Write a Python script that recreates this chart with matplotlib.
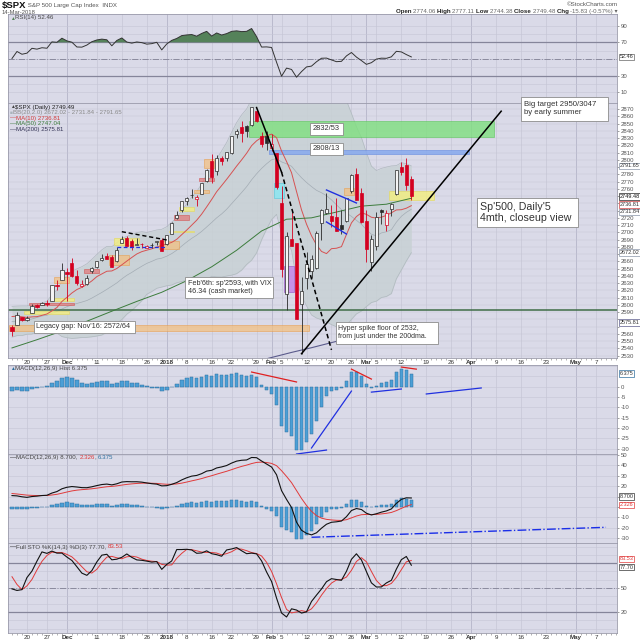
import numpy as np
import matplotlib
matplotlib.use('Agg')
import matplotlib.pyplot as plt
from matplotlib.patches import Rectangle

plt.rcParams['font.family'] = ['Liberation Sans', 'DejaVu Sans']

# ---------------- data ----------------
first_day = '2017-11-15'
holidays = ['2017-11-23', '2017-12-25', '2018-01-01', '2018-01-15', '2018-02-19', '2018-03-30']
prev_close = 2578.87

opens = [2569.45, 2572.95, 2582.94, 2579.49, 2589.17, 2600.31, 2600.42, 2602.66, 2605.94, 2627.82,
         2633.93, 2645.10, 2657.19, 2639.78, 2626.24, 2628.38, 2646.21, 2652.19, 2661.73, 2667.59,
         2665.87, 2660.63, 2685.92, 2692.71, 2688.18, 2683.02, 2684.22, 2679.09, 2682.10, 2686.10,
         2689.15, 2683.73, 2697.85, 2719.31, 2731.33, 2742.67, 2751.15, 2745.55, 2752.97, 2770.18,
         2798.96, 2784.99, 2802.40, 2802.60, 2809.16, 2835.05, 2845.42, 2846.24, 2847.48, 2867.23,
         2832.74, 2832.41, 2816.45, 2808.92, 2741.06, 2614.78, 2690.95, 2685.01, 2601.78, 2636.75,
         2646.27, 2651.21, 2713.46, 2727.14, 2722.99, 2720.53, 2710.42, 2715.80, 2757.37, 2780.45,
         2753.78, 2715.22, 2658.89, 2681.06, 2730.18, 2710.18, 2732.75, 2752.91, 2790.54, 2792.31,
         2774.06]
highs = [2572.84, 2590.09, 2583.96, 2584.64, 2601.19, 2600.94, 2604.21, 2606.41, 2627.69, 2634.89,
         2657.74, 2650.62, 2665.19, 2648.72, 2634.41, 2640.99, 2651.65, 2660.33, 2669.72, 2671.88,
         2668.09, 2679.63, 2694.97, 2694.44, 2691.01, 2692.64, 2685.35, 2682.74, 2685.64, 2687.66,
         2692.12, 2695.89, 2714.37, 2729.29, 2743.45, 2748.51, 2759.14, 2750.80, 2767.56, 2787.85,
         2807.54, 2807.04, 2805.83, 2810.33, 2833.03, 2842.24, 2852.97, 2848.56, 2872.87, 2870.62,
         2837.75, 2839.26, 2835.96, 2808.92, 2763.39, 2701.04, 2727.67, 2685.27, 2638.67, 2672.61,
         2668.84, 2702.10, 2731.51, 2754.42, 2737.60, 2747.75, 2731.26, 2747.76, 2780.64, 2789.15,
         2761.52, 2730.89, 2696.25, 2728.09, 2732.08, 2730.60, 2740.45, 2786.57, 2796.98, 2801.90,
         2777.11]
lows = [2557.45, 2572.95, 2577.62, 2578.24, 2589.17, 2595.23, 2600.42, 2598.87, 2605.44, 2620.32,
        2633.93, 2605.52, 2639.03, 2627.73, 2624.75, 2627.69, 2644.10, 2651.47, 2660.36, 2662.85,
        2652.01, 2659.14, 2685.92, 2680.74, 2676.11, 2682.40, 2678.13, 2677.96, 2678.91, 2682.69,
        2673.61, 2682.36, 2697.77, 2719.07, 2727.92, 2737.60, 2747.86, 2736.06, 2752.78, 2769.64,
        2768.64, 2778.38, 2792.56, 2798.08, 2808.12, 2830.59, 2824.81, 2830.94, 2846.18, 2851.48,
        2818.27, 2813.04, 2812.70, 2759.97, 2638.17, 2593.07, 2681.33, 2580.56, 2532.69, 2622.45,
        2637.08, 2648.87, 2689.82, 2725.11, 2706.76, 2701.29, 2697.77, 2713.74, 2753.78, 2744.22,
        2713.54, 2659.65, 2647.32, 2675.75, 2711.26, 2701.74, 2721.88, 2751.54, 2779.26, 2758.68,
        2744.38]
closes = [2564.62, 2585.64, 2578.85, 2582.14, 2599.03, 2597.08, 2602.42, 2601.42, 2627.04, 2626.07,
          2647.58, 2642.22, 2639.44, 2629.57, 2629.27, 2636.98, 2651.50, 2659.99, 2664.11, 2662.85,
          2652.01, 2675.81, 2690.16, 2681.47, 2679.25, 2684.57, 2683.34, 2680.50, 2682.62, 2687.54,
          2673.61, 2695.81, 2713.06, 2723.99, 2743.15, 2747.71, 2751.29, 2748.23, 2767.56, 2786.24,
          2776.42, 2802.56, 2798.03, 2810.30, 2832.97, 2839.13, 2837.54, 2839.25, 2872.87, 2853.53,
          2822.43, 2823.81, 2821.98, 2762.13, 2648.94, 2695.14, 2681.66, 2581.00, 2619.55, 2656.00,
          2662.94, 2698.63, 2731.20, 2732.22, 2716.26, 2701.33, 2703.96, 2747.30, 2779.60, 2744.28,
          2713.83, 2677.67, 2691.25, 2720.94, 2728.12, 2726.80, 2738.97, 2786.57, 2783.02, 2765.31,
          2749.48]

ma10 = [2583.9, 2584.5, 2583.6, 2582.7, 2583.5, 2583.8, 2585.6, 2587.5, 2591.7, 2596.4,
        2604.7, 2610.4, 2616.4, 2621.2, 2624.2, 2628.2, 2633.1, 2639.0, 2642.7, 2646.4,
        2646.8, 2650.2, 2655.2, 2660.4, 2665.4, 2670.2, 2673.4, 2675.4, 2677.3, 2679.7,
        2681.9, 2683.9, 2686.2, 2690.4, 2696.8, 2703.1, 2709.9, 2716.7, 2725.2, 2735.1,
        2745.3, 2756.0, 2764.5, 2773.1, 2782.1, 2791.3, 2799.9, 2809.0, 2819.5, 2826.2,
        2830.8, 2833.0, 2835.4, 2830.5, 2812.1, 2797.7, 2782.2, 2756.3, 2731.0, 2711.3,
        2695.3, 2682.8, 2673.7, 2670.7, 2677.5, 2678.1, 2680.3, 2697.0, 2713.0, 2721.8,
        2726.9, 2724.8, 2720.8, 2719.7, 2720.9, 2723.4, 2726.9, 2730.9, 2731.2, 2733.3,
        2736.8]
bb_mid = [2576.8, 2578.0, 2578.2, 2579.1, 2580.6, 2582.6, 2584.7, 2585.7, 2588.4, 2590.9,
          2594.3, 2597.5, 2600.0, 2602.0, 2603.9, 2606.0, 2609.4, 2613.3, 2617.2, 2621.4,
          2625.8, 2630.3, 2635.8, 2640.8, 2644.8, 2649.2, 2653.3, 2657.2, 2660.0, 2663.1,
          2664.4, 2667.1, 2670.7, 2675.4, 2681.1, 2686.7, 2691.7, 2696.1, 2701.3, 2707.4,
          2713.6, 2720.0, 2725.4, 2731.8, 2739.5, 2747.2, 2754.9, 2762.9, 2772.4, 2780.7,
          2788.1, 2794.5, 2800.0, 2801.8, 2797.1, 2794.5, 2791.1, 2782.7, 2775.3, 2768.8,
          2763.1, 2757.9, 2754.6, 2750.6, 2744.8, 2737.9, 2731.3, 2726.7, 2722.0, 2716.6,
          2711.1, 2703.8, 2697.3, 2695.2, 2699.2, 2700.8, 2703.6, 2714.0, 2722.1, 2727.6,
          2731.8]
bb_half = [21.2, 20.4, 20.4, 19.5, 20.8, 19.0, 18.0, 19.3, 25.5, 29.6,
           38.0, 42.7, 46.2, 47.7, 48.8, 50.7, 53.4, 56.2, 58.7, 59.2,
           54.5, 55.4, 56.0, 53.6, 52.5, 50.4, 47.6, 42.6, 41.6, 40.2,
           39.8, 40.7, 43.3, 44.9, 48.8, 52.5, 57.0, 60.0, 65.7, 72.9,
           74.1, 81.4, 87.0, 92.0, 98.5, 104.2, 107.0, 107.2, 110.8, 108.9,
           98.5, 90.0, 82.5, 77.0, 99.0, 106.7, 116.0, 147.3, 163.0, 170.0,
           177.0, 176.0, 175.0, 174.0, 172.0, 168.1, 162.0, 155.0, 142.0, 129.0,
           119.6, 106.0, 94.0, 90.0, 89.0, 89.2, 88.0, 78.0, 74.0, 67.0,
           59.8]
ma50_dates = ['2017-11-15', '2017-11-22', '2017-11-30', '2017-12-07', '2017-12-14', '2017-12-21',
              '2017-12-29', '2018-01-08', '2018-01-16', '2018-01-23', '2018-01-30', '2018-02-06',
              '2018-02-13', '2018-02-21', '2018-02-28', '2018-03-07', '2018-03-14']
ma50 = [2540.7, 2552.0, 2564.0, 2577.5, 2591.3, 2604.8, 2617.4, 2633.3, 2652.5, 2675.3,
        2701.9, 2718.1, 2720.0, 2728.0, 2736.1, 2738.8, 2747.0]
ma200_dates = ['2018-01-26', '2018-02-01', '2018-02-07', '2018-02-13', '2018-02-20', '2018-02-26',
               '2018-03-02', '2018-03-08', '2018-03-14']
ma200 = [2520.5, 2527.5, 2534.5, 2541.0, 2548.0, 2555.0, 2562.0, 2569.0, 2575.8]

rsi = [50.6, 59.0, 55.7, 57.0, 62.8, 61.8, 63.5, 62.9, 70.5, 70.0,
       74.9, 71.7, 70.1, 64.4, 64.2, 66.7, 70.7, 72.8, 73.8, 73.0,
       65.8, 72.2, 75.2, 70.3, 69.0, 70.4, 69.6, 67.8, 68.4, 70.0,
       60.9, 68.0, 72.3, 74.6, 78.0, 78.8, 79.3, 77.3, 80.6, 83.1,
       77.4, 81.2, 78.7, 80.4, 83.1, 83.7, 82.8, 83.1, 86.5, 76.8,
       64.3, 64.5, 63.8, 46.1, 29.4, 39.1, 37.5, 28.2, 34.9, 40.5,
       41.5, 46.7, 50.9, 51.1, 48.9, 46.8, 47.2, 53.7, 57.8, 52.3,
       48.1, 43.6, 45.6, 49.9, 51.0, 50.8, 52.6, 59.2, 58.5, 55.3,
       52.5]
macd = [11.00, 10.72, 9.84, 9.29, 10.10, 10.47, 11.06, 11.32, 13.44, 14.87,
        17.54, 19.00, 19.70, 19.25, 18.65, 18.58, 19.47, 20.63, 21.63, 22.07,
        21.29, 22.34, 24.06, 24.44, 24.28, 24.30, 23.94, 23.16, 22.45, 22.02,
        20.33, 20.55, 21.86, 23.51, 26.07, 28.14, 29.72, 30.38, 32.10, 34.56,
        35.31, 37.59, 38.58, 39.90, 42.28, 44.15, 44.98, 45.27, 47.66, 47.44,
        44.25, 41.36, 38.48, 31.00, 15.76, 7.33, -0.43, -14.54, -22.35, -25.31,
        -26.79, -24.79, -20.35, -16.56, -14.66, -14.21, -13.48, -9.30, -3.35, -1.46,
        -2.39, -5.97, -7.63, -6.48, -4.93, -3.76, -1.83, 3.51, 7.35, 8.87,
        8.70]
macd_signal = [13.00, 12.54, 12.00, 11.46, 11.19, 11.05, 11.05, 11.10, 11.57, 12.23,
               13.29, 14.43, 15.48, 16.23, 16.71, 17.08, 17.56, 18.17, 18.86, 19.50,
               19.86, 20.36, 21.10, 21.77, 22.27, 22.68, 22.93, 22.98, 22.87, 22.70,
               22.23, 21.89, 21.88, 22.21, 22.98, 24.01, 25.15, 26.20, 27.38, 28.82,
               30.12, 31.61, 33.00, 34.38, 35.96, 37.60, 39.08, 40.32, 41.79, 42.92,
               43.19, 42.82, 41.95, 39.76, 34.96, 29.43, 23.46, 15.86, 8.22, 1.51,
               -4.15, -8.28, -10.69, -11.86, -12.42, -12.78, -12.92, -12.20, -10.43, -8.64,
               -7.39, -7.11, -7.21, -7.06, -6.63, -6.06, -5.21, -3.47, -1.31, 0.73,
               2.33]
sto_k = [48.7, 46.8, 47.8, 62.6, 70.5, 82.7, 94.0, 92.2, 95.0, 92.5,
         92.5, 87.7, 83.5, 75.8, 68.0, 65.3, 71.1, 81.8, 90.0, 91.1,
         84.3, 85.1, 87.4, 91.5, 87.3, 84.2, 83.7, 82.7, 81.5, 82.1,
         72.6, 78.7, 82.9, 96.9, 96.9, 97.2, 96.4, 92.3, 92.7, 95.3,
         91.8, 90.6, 88.7, 96.4, 97.6, 99.3, 95.4, 91.8, 92.5, 91.6,
         83.0, 69.4, 57.8, 37.4, 19.2, 14.3, 24.3, 22.8, 19.1, 20.6,
         33.3, 41.1, 48.6, 57.5, 61.2, 60.2, 59.2, 70.2, 84.9, 91.7,
         84.2, 69.9, 56.1, 51.0, 51.1, 56.0, 59.2, 72.9, 84.5, 88.4,
         77.7]
sto_d = [63.6, 54.1, 47.8, 52.4, 60.3, 71.9, 82.4, 89.6, 93.7, 93.2,
         93.3, 90.9, 87.9, 82.3, 75.8, 69.7, 68.1, 72.7, 81.0, 87.6,
         88.5, 86.8, 85.6, 88.0, 88.7, 87.7, 85.1, 83.5, 82.6, 82.1,
         78.7, 77.8, 78.1, 86.2, 92.2, 97.0, 96.8, 95.3, 93.8, 93.4,
         93.3, 92.6, 90.4, 91.9, 94.2, 97.8, 97.4, 95.5, 93.2, 92.0,
         89.0, 81.3, 70.1, 54.9, 38.1, 23.6, 19.3, 20.5, 22.1, 20.8,
         24.3, 31.7, 41.0, 49.1, 55.8, 59.6, 60.2, 63.2, 71.4, 82.3,
         86.9, 81.9, 70.1, 59.0, 52.7, 52.7, 55.4, 62.7, 72.2, 81.9,
         83.5]

tick_dates = ['2017-11-20', '2017-11-27', '2017-12-01', '2017-12-11', '2017-12-18', '2017-12-26',
              '2018-01-02', '2018-01-08', '2018-01-16', '2018-01-22', '2018-01-29', '2018-02-01',
              '2018-02-05', '2018-02-12', '2018-02-20', '2018-02-26', '2018-03-01', '2018-03-05',
              '2018-03-12', '2018-03-19', '2018-03-26', '2018-04-02', '2018-04-09', '2018-04-16',
              '2018-04-23', '2018-05-01', '2018-05-07']
tick_labels = ['20', '27', 'Dec', '11', '18', '26', '2018', '8', '16', '22', '29', 'Feb', '5', '12',
               '20', '26', 'Mar', '5', '12', '19', '26', 'Apr', '9', '16', '23', 'May', '7']

# latest-value flags on the right axes: (value shown, label)
price_flags = [(2791.65, '2791.65', 'bb'), (2749.48, '2749.48', 'close'), (2736.81, '2736.81', 'ma10'),
               (2731.84, '2731.84', 'bb'), (2672.02, '2672.02', 'bb'), (2575.81, '2575.81', 'ma200')]

# annotation drawings (date, price)
trend_lines = [
    ([('2018-02-09', 2532.7), ('2018-04-10', 2867.0)], 'black', '-', 1.1),
    ([('2018-01-29', 2872.0), ('2018-02-05', 2783.0)], 'black', '-', 1.1),
    ([('2018-02-05', 2783.0), ('2018-02-20', 2538.0)], 'black', (0, (3, 2)), 1.1),
    ([('2017-12-18', 2700.9), ('2018-01-02', 2689.5)], 'black', (0, (3, 2)), 1.0),
    ([('2017-12-15', 2680.0), ('2018-01-02', 2680.0)], '#2030e0', (0, (3, 2)), 0.9),
    ([('2018-02-16', 2758.4), ('2018-02-27', 2740.5)], '#2030e0', '-', 1.0),
    ([('2018-02-16', 2714.3), ('2018-02-23', 2697.7)], '#2030e0', '-', 1.0),
]
zones = [  # date0, date1, low, high, kind
    ('2018-01-26', '2018-04-06', 2832, 2853, 'green'),
    ('2018-02-01', '2018-03-29', 2808, 2813, 'blue'),
    ('2017-11-15', '2018-02-12', 2564, 2572, 'orange'),
    ('2018-03-08', '2018-03-20', 2744, 2757, 'yellow'),
    ('2018-02-23', '2018-02-26', 2751, 2761, 'orange'),
    ('2018-02-02', '2018-02-05', 2747, 2768, 'cyan'),
    ('2018-02-06', '2018-02-07', 2618, 2654, 'purple'),
    ('2018-01-12', '2018-01-16', 2789, 2801, 'orange'),
    ('2018-01-11', '2018-01-16', 2771, 2775, 'red'),
    ('2018-01-10', '2018-01-12', 2754, 2758, 'orange'),
    ('2018-01-05', '2018-01-09', 2729, 2735, 'yellow'),
    ('2018-01-04', '2018-01-08', 2717, 2724, 'red'),
    ('2018-01-03', '2018-01-09', 2700, 2702, 'yellow'),
    ('2017-12-15', '2017-12-21', 2683, 2692, 'yellow'),
    ('2017-12-29', '2018-01-04', 2677, 2688, 'orange'),
    ('2017-12-14', '2017-12-19', 2655, 2669, 'orange'),
    ('2017-12-07', '2017-12-11', 2644, 2649, 'red'),
    ('2017-11-29', '2017-12-01', 2630, 2638, 'orange'),
    ('2017-11-29', '2017-12-04', 2606, 2610, 'yellow'),
    ('2017-11-21', '2017-12-04', 2600, 2603, 'red'),
    ('2017-11-20', '2017-12-01', 2587, 2592, 'yellow'),
]
hist_lines = [  # (date, value) pairs on the MACD histogram panel
    ([('2018-01-26', 7.1), ('2018-02-08', 2.3)], '#e02020'),
    ([('2018-02-26', 8.5), ('2018-03-02', 3.7)], '#e02020'),
    ([('2018-03-12', 9.5), ('2018-03-15', 8.5)], '#e02020'),
    ([('2018-02-13', -29.6), ('2018-02-26', -2.1)], '#2030e0'),
    ([('2018-02-08', -32.5), ('2018-02-16', -30.6)], '#2030e0'),
    ([('2018-03-02', -2.6), ('2018-03-12', -1.1)], '#2030e0'),
    ([('2018-03-19', -3.5), ('2018-04-04', -0.6)], '#2030e0'),
]
macd_line_note = [('2018-02-13', -29.1), ('2018-05-09', -19.5)]

# ---------------- drawing ----------------
W = H = 640.0
LPX, RPX = 8, 617
BG = '#dadae8'
GRID = '#c6c6d6'
GRID_M = '#adadc2'

fig = plt.figure(figsize=(6.4, 6.4), dpi=100)
fig.patch.set_facecolor('white')


def didx(d):
    return int(np.busday_count(first_day, d, holidays=holidays))


n = len(closes)
x = np.arange(n)
tick_x = [didx(d) for d in tick_dates]
is_month = [not lab.isdigit() or lab == '2018' for lab in tick_labels]


def panel(top, bottom, ylim):
    ax = fig.add_axes([LPX / W, 1 - bottom / H, (RPX - LPX) / W, (bottom - top) / H])
    ax.set_facecolor(BG)
    ax.set_xlim(-0.8, 121.2)
    ax.set_ylim(*ylim)
    for s in ax.spines.values():
        s.set_color('#9a9aaa')
        s.set_linewidth(0.6)
    ax.yaxis.tick_right()
    ax.tick_params(axis='y', labelsize=4.3, colors='#555555', length=1.5, width=0.4, pad=1)
    ax.tick_params(axis='x', which='both', length=0, labelbottom=False)
    for tx, m in zip(tick_x, is_month):
        ax.axvline(tx, color=GRID_M if m else GRID, lw=0.5, zorder=0.5)
    return ax


def set_right_ticks(ax, ticks, hidden=()):
    ax.set_yticks(ticks)
    ax.set_yticklabels(['' if t in hidden else str(t) for t in ticks])


def date_axis(ax):
    ax.set_xticks(tick_x)
    ax.set_xticklabels(tick_labels)
    ax.set_xticks(np.arange(0, 122), minor=True)
    ax.tick_params(axis='x', which='major', labelbottom=True, labelsize=4.5, pad=1.5,
                   labelcolor='#333333', length=0)
    ax.tick_params(axis='x', which='minor', length=1.2, width=0.4, color='#777777')
    for lab, m in zip(ax.get_xticklabels(), is_month):
        if m:
            lab.set_fontweight('bold')


def vbox(ax, ypos, s, ec, color='#333333'):
    ax.text(1.004, ypos, s, transform=ax.get_yaxis_transform(), fontsize=4.0, va='center',
            ha='left', color=color, clip_on=False, zorder=20,
            bbox=dict(boxstyle='square,pad=0.12', fc='white', ec=ec, lw=0.5))


def seq(x_px, y_px, parts, size, align='left'):
    r = fig.canvas.get_renderer()
    objs = []
    xx = x_px
    for s, kw in parts:
        opts = dict(fontsize=size, va='center', ha='left')
        opts.update(kw)
        t = fig.text(xx / W, 1 - y_px / H, s, **opts)
        w = t.get_window_extent(renderer=r).width
        objs.append((t, w))
        xx += w
    if align == 'right':
        total = xx - x_px
        xx = x_px - total
        for t, w in objs:
            t.set_x(xx / W)
            xx += w


# ---- RSI panel ----
axr = panel(14, 103, (-2.7, 103.9))
for lv in range(10, 100, 10):
    axr.axhline(lv, color=GRID, lw=0.4, zorder=0.5)
axr.axhline(70, color='#85859a', lw=0.9, zorder=1)
axr.axhline(30, color='#85859a', lw=0.9, zorder=1)
axr.axhline(50, color='#8a8a9e', lw=0.7, ls='-.', zorder=1)
ra = np.array(rsi)
axr.fill_between(x, ra, 70, where=ra > 70, interpolate=True, color='#55825a', lw=0, zorder=2)
axr.plot(x, ra, color='#333333', lw=0.7, zorder=3)
set_right_ticks(axr, [10, 30, 70, 90])
vbox(axr, rsi[-1], '52.46', '#666666')

# ---- price panel ----
axp = panel(103, 358, (2526.8, 2878.3))
for lv in range(2530, 2880, 10):
    axp.axhline(lv, color=GRID, lw=0.35, zorder=0.5)
up = np.array(bb_mid) + np.array(bb_half)
dn = np.array(bb_mid) - np.array(bb_half)
axp.fill_between(x, dn, up, color='#c8d1d4', alpha=0.85, lw=0, zorder=1)
axp.plot(x, up, color='#b0b9bf', lw=0.5, zorder=1.2)
axp.plot(x, dn, color='#b0b9bf', lw=0.5, zorder=1.2)
axp.plot(x, bb_mid, color='#a3acb4', lw=0.5, zorder=1.2)

zone_style = {
    'green': ('#7fe07f', '#5cc45c', 0.8),
    'blue': ('#87a9ee', '#6a8ee0', 0.85),
    'orange': ('#f5bf7c', '#e99a45', 0.7),
    'yellow': ('#f4ef7e', '#e3d95a', 0.8),
    'red': ('#e27c7c', '#d05050', 0.75),
    'cyan': ('#8ee6f0', '#5fc8dc', 0.9),
    'purple': ('#c48ae8', '#9a5cc8', 0.9),
}
for d0, d1, lo, hi, kind in zones:
    fc, ec, al = zone_style[kind]
    x0 = didx(d0) - 0.5
    x1 = didx(d1) + 0.5
    axp.add_patch(Rectangle((x0, lo), x1 - x0, hi - lo, fc=fc, ec=ec, lw=0.5, alpha=al, zorder=2))

axp.axhline(2593, color='#3f6d47', lw=1.1, zorder=2.5)
axp.plot(x, ma10, color='#d65252', lw=0.7, zorder=3)
axp.plot([didx(d) for d in ma50_dates], ma50, color='#3c7c3c', lw=0.7, zorder=3)
axp.plot([didx(d) for d in ma200_dates], ma200, color='#5b5b8c', lw=0.8, zorder=3)

for i in range(n):
    o, h, l, c = opens[i], highs[i], lows[i], closes[i]
    pc = closes[i - 1] if i else prev_close
    col = '#2a2a2a' if c >= pc else '#d40020'
    hollow = c >= o
    axp.vlines(i, l, h, color=col, lw=0.6, zorder=4)
    axp.add_patch(Rectangle((i - 0.32, min(o, c)), 0.64, max(abs(c - o), 0.7),
                            fc='#f4f4f4' if hollow else col, ec=col, lw=0.5, zorder=4.5))

for pts, col, ls, lw in trend_lines:
    axp.plot([didx(d) for d, _ in pts], [p for _, p in pts], color=col, ls=ls, lw=lw, zorder=6)

price_ticks = list(range(2530, 2871, 10))
hidden = [t for t in price_ticks if any(abs(t - v) < 6.5 for v, _, _ in price_flags)]
hidden += [2740]
set_right_ticks(axp, price_ticks, hidden)
date_axis(axp)
flag_style = {'bb': ('#8a96a8', '#333333'), 'close': ('#222222', '#111111'),
              'ma10': ('#d04040', '#333333'), 'ma200': ('#5b5b8c', '#333333')}
# stack the three flags that sit close together so they do not cover each other
flag_pos = {'2749.48': 2749.48, '2736.81': 2738.6, '2731.84': 2728.2}
for v, s, kind in price_flags:
    ec, col = flag_style[kind]
    vbox(axp, flag_pos.get(s, v), s, ec, color=col)

# ---- MACD histogram panel ----
hist = np.array(macd) - np.array(macd_signal)
axh = panel(365, 454, (-32.5, 10.5))
for lv in range(-30, 11, 5):
    axh.axhline(lv, color=GRID, lw=0.4, zorder=0.5)
axh.bar(x, hist, width=0.72, color='#4b9fd6', edgecolor='#2f6f9e', lw=0.35, zorder=2)
for pts, col in hist_lines:
    axh.plot([didx(d) for d, _ in pts], [v for _, v in pts], color=col, lw=0.9, zorder=3)
set_right_ticks(axh, [0, -5, -10, -15, -20, -25, -30])
vbox(axh, 6.375, '6.375', '#2f6f9e')

# ---- MACD panel ----
axm = panel(454, 543, (-34.6, 51))
for lv in range(-30, 51, 10):
    axm.axhline(lv, color=GRID, lw=0.4, zorder=0.5)
axm.bar(x, hist, width=0.72, color='#4b9fd6', edgecolor='#2f6f9e', lw=0.35, zorder=2)
axm.plot(x, macd_signal, color='#e03a3a', lw=0.7, zorder=3)
axm.plot(x, macd, color='#111111', lw=0.8, zorder=3.5)
axm.plot([didx(d) for d, _ in macd_line_note], [v for _, v in macd_line_note],
         color='#1a2ee8', lw=1.0, ls='-.', zorder=3)
set_right_ticks(axm, [50, 40, 30, 20, 10, 0, -10, -20, -30], hidden=(10, 0))
vbox(axm, 10.2, '8.700', '#333333')
vbox(axm, 2.0, '2.326', '#e03a3a', color='#e03a3a')

# ---- Full STO panel ----
axs = panel(543, 632.5, (-4.7, 104.9))
for lv in range(0, 101, 10):
    axs.axhline(lv, color=GRID, lw=0.4, zorder=0.5)
axs.axhline(80, color='#85859a', lw=0.9, zorder=1)
axs.axhline(20, color='#85859a', lw=0.9, zorder=1)
axs.axhline(50, color='#8a8a9e', lw=0.7, ls='-.', zorder=1)
axs.plot(x, sto_d, color='#e03a3a', lw=0.7, zorder=3)
axs.plot(x, sto_k, color='#111111', lw=0.8, zorder=3.5)
set_right_ticks(axs, [50, 20])
vbox(axs, 85.6, '83.53', '#e03a3a', color='#e03a3a')
vbox(axs, 75.4, '77.70', '#333333')
date_axis(axs)

# ---------------- texts ----------------
seq(2, 5.5, [(r'\$SPX', dict(fontweight='bold', color='#111111', fontsize=6.8)),
             (' S&P 500 Large Cap Index  INDX', dict(color='#555555'))], 4.4)
fig.text(2 / W, 1 - 13 / H, '14-Mar-2018', fontsize=4.2, color='#555555', va='center')
fig.text(618 / W, 1 - 4.5 / H, '\u00a9StockCharts.com', fontsize=4.4, color='#555555',
         va='center', ha='right')
B = dict(fontweight='bold', color='#222222')
N = dict(color='#666666')
seq(618, 11.5, [('Open ', B), ('2774.06 ', N), ('High ', B), ('2777.11 ', N), ('Low ', B),
                ('2744.38 ', N), ('Close ', B), ('2749.48 ', N), ('Chg ', B),
                ('-15.83 (-0.57%) \u25be', N)], 4.4, align='right')

seq(10, 18, [('\u25b2', dict(color='#55825a', fontsize=3.5)), ('RSI(14) 52.46', dict(color='#444444'))], 4.4)
seq(10, 107, [('\u25b2', dict(color='#444444', fontsize=3.5)), (r'\$SPX (Daily) 2749.49', dict(color='#222222'))], 4.4)
seq(10, 112.6, [('\u25a0', dict(color='#aab4bc', fontsize=3.5)),
                ('BB(20,2.0) 2672.02 - 2731.84 - 2791.65', dict(color='#8a8a8a'))], 4.4)
seq(10, 118.2, [('\u2014', dict(color='#d23a3a')), ('MA(10) 2736.81', dict(color='#d23a3a'))], 4.4)
seq(10, 123.8, [('\u2014', dict(color='#3c7c3c')), ('MA(50) 2747.04', dict(color='#3c7c3c'))], 4.4)
seq(10, 129.4, [('\u2014', dict(color='#333355')), ('MA(200) 2575.81', dict(color='#333355'))], 4.4)
seq(10, 368.5, [('\u25b2', dict(color='#2f6f9e', fontsize=3.5)),
                ('MACD(12,26,9) Hist 6.375', dict(color='#444444'))], 4.4)
seq(10, 457.5, [('\u2014', dict(color='#111111')), ('MACD(12,26,9) 8.700, ', dict(color='#444444')),
                ('2.326', dict(color='#e03a3a')), (', ', dict(color='#444444')),
                ('6.375', dict(color='#2f6f9e'))], 4.4)
seq(10, 547, [('\u2014', dict(color='#111111')), ('Full STO %K(14,3) %D(3) 77.70, ', dict(color='#444444')),
              ('83.53', dict(color='#e03a3a'))], 4.4)

notes = [
    ("Big target 2950/3047\nby early summer", 521, 97, 608, 121, 5.6),
    ("2832/53", 310, 123, 343, 135, 5.4),
    ("2808/13", 310, 143, 343, 155, 5.4),
    ("Sp'500, Daily'5\n4mth, closeup view", 477, 198, 578, 227, 7.7),
    ("Feb'6th: sp'2593, with VIX\n46.34 (cash market)", 185, 277, 273, 298, 5.2),
    ("Legacy gap: Nov'16: 2572/64", 34, 321, 135, 333, 5.2),
    ("Hyper spike floor of 2532,\nfrom just under the 200dma.", 336, 322, 438, 344, 5.0),
]
for txt, x0, y0, x1, y1, fs in notes:
    fig.patches.append(Rectangle((x0 / W, 1 - y1 / H), (x1 - x0) / W, (y1 - y0) / H,
                                 transform=fig.transFigure, fc='white', ec='#8c8c8c',
                                 lw=0.6, zorder=10))
    fig.text((x0 + 2.5) / W, 1 - (y0 + y1) / 2 / H, txt, fontsize=fs, va='center', ha='left',
             color='#333333', linespacing=1.2, zorder=11)

fig.savefig('out.png', dpi=100, facecolor='white')
